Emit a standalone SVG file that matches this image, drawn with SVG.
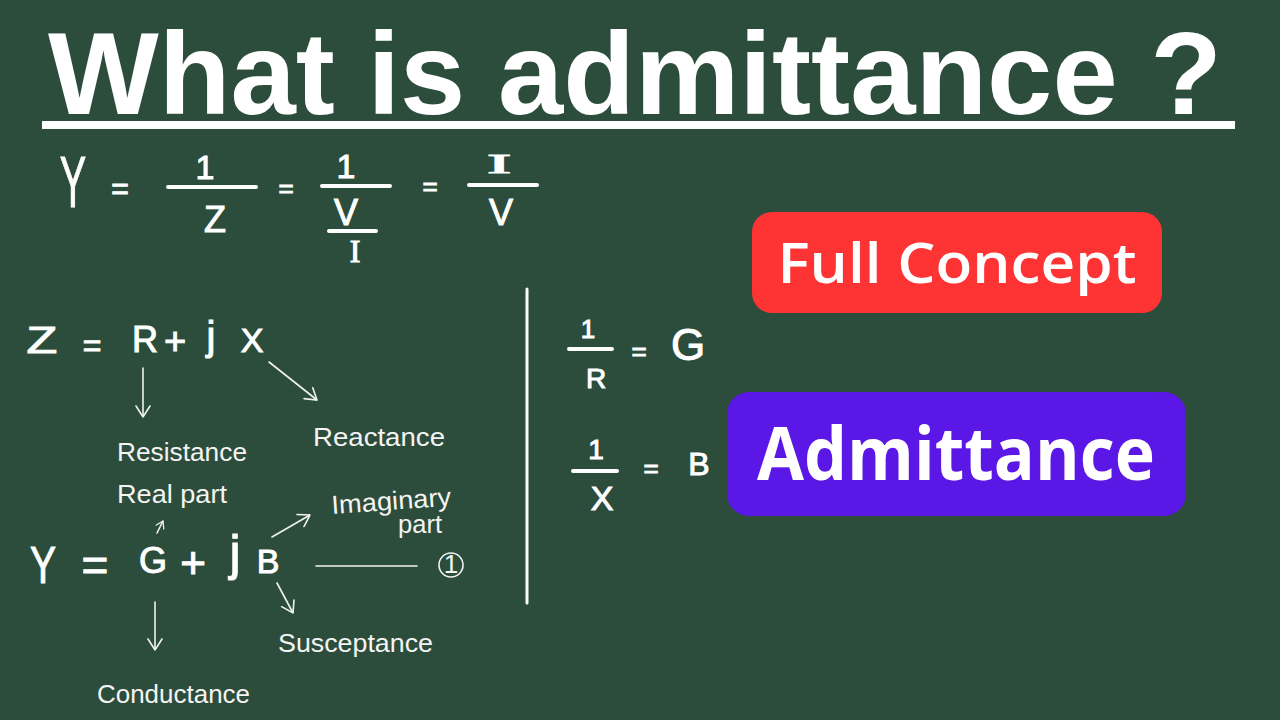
<svg xmlns="http://www.w3.org/2000/svg" width="1280" height="720" viewBox="0 0 1280 720">
<defs>
<style>
.hw{font-family:"Liberation Sans","DejaVu Sans",sans-serif;fill:#fff;text-anchor:middle}
.rm{font-family:"Liberation Serif","DejaVu Serif",serif;fill:#fff;text-anchor:middle}
.eq{stroke:#fff;stroke-width:1}
.lbl{font-family:"Liberation Sans","DejaVu Sans",sans-serif;fill:#f4f4f4;font-size:26px}
.bar{stroke:#fff;stroke-width:4;stroke-linecap:round;fill:none}
.conn{stroke:#f2f2f2;stroke-width:1.6;fill:none;stroke-linecap:round}
.title{font-family:"Liberation Sans","Open Sans",sans-serif;font-weight:700;fill:#fff}
.badge{font-family:"Open Sans","Noto Sans",sans-serif;fill:#fff;text-anchor:middle}
</style>
<marker id="ah" viewBox="0 0 12 16" refX="12" refY="8" markerWidth="12" markerHeight="16" markerUnits="userSpaceOnUse" orient="auto">
<path d="M1,1 L12,8 L1,15" fill="none" stroke="#f2f2f2" stroke-width="1.6" stroke-linecap="round"/>
</marker>
<marker id="ahs" viewBox="0 0 12 16" refX="12" refY="8" markerWidth="8" markerHeight="10" markerUnits="userSpaceOnUse" orient="auto">
<path d="M1,1 L12,8 L1,15" fill="none" stroke="#f2f2f2" stroke-width="2" stroke-linecap="round"/>
</marker>
</defs>
<rect width="1280" height="720" fill="#2c4d3b"/>

<g id="title">
<text class="title" x="48" y="114" font-size="117" textLength="1174" lengthAdjust="spacingAndGlyphs">What is admittance ?</text>
<rect x="42" y="121" width="1193" height="8" fill="#fff"/>
</g>

<g id="eq-y-definition">
<text class="hw eq" transform="translate(73,207) scale(0.55,1)" font-size="72" stroke-width="2">Y</text>
<text class="hw eq" x="120" y="199" font-size="30">=</text>
<text class="hw eq" x="205" y="179" font-size="34">1</text>
<line class="bar" x1="168" y1="187" x2="256" y2="187"/>
<text class="hw eq" x="215" y="232" font-size="36">Z</text>
<text class="hw eq" x="286" y="197" font-size="26">=</text>
<text class="hw eq" x="346" y="178" font-size="34">1</text>
<line class="bar" x1="322" y1="186" x2="390" y2="186"/>
<text class="hw eq" x="346" y="225" font-size="36">V</text>
<line class="bar" x1="329" y1="231" x2="376" y2="231"/>
<text class="rm eq" x="355" y="262" font-size="32">I</text>
<text class="hw eq" x="430" y="195" font-size="26">=</text>
<line class="bar" x1="469" y1="185" x2="537" y2="185"/>
<text class="rm eq" transform="translate(499,173) scale(2.6,0.95)" font-size="28">I</text>
<text class="hw eq" x="501" y="225" font-size="36">V</text>
</g>

<g id="eq-z">
<text class="hw eq" transform="translate(42,353) scale(1.4,1)" font-size="36">Z</text>
<text class="hw eq" x="92" y="356" font-size="32">=</text>
<text class="hw eq" x="145" y="352" font-size="36">R</text>
<text class="hw eq" x="175" y="354" font-size="38">+</text>
<text class="hw eq" x="211" y="350" font-size="40">j</text>
<text class="hw eq" x="252" y="352" font-size="34">X</text>
</g>

<g id="eq-y">
<text class="hw eq" transform="translate(43,583) scale(0.75,1)" font-size="52">Y</text>
<text class="hw eq" x="95" y="581" font-size="46">=</text>
<text class="hw eq" x="153" y="573" font-size="36">G</text>
<text class="hw eq" x="193" y="578" font-size="44">+</text>
<text class="hw eq" x="235" y="570" font-size="50">j</text>
<text class="hw eq" x="268" y="573" font-size="34">B</text>
</g>

<g id="eq-g">
<text class="hw eq" x="588" y="338" font-size="26">1</text>
<line class="bar" x1="569" y1="349" x2="612" y2="349"/>
<text class="hw eq" x="596" y="388" font-size="28">R</text>
<text class="hw eq" x="639" y="360" font-size="26">=</text>
<text class="hw eq" x="688" y="360" font-size="44">G</text>
</g>

<g id="eq-b">
<text class="hw eq" x="596" y="459" font-size="28">1</text>
<line class="bar" x1="573" y1="471" x2="617" y2="471"/>
<text class="hw eq" x="602" y="510" font-size="34">X</text>
<text class="hw eq" x="651" y="477" font-size="26">=</text>
<text class="hw eq" x="699" y="475" font-size="32">B</text>
</g>

<g id="labels">
<text class="lbl" x="117" y="461" textLength="130" lengthAdjust="spacingAndGlyphs">Resistance</text>
<text class="lbl" x="313" y="446" textLength="132" lengthAdjust="spacingAndGlyphs">Reactance</text>
<text class="lbl" x="117" y="503" font-size="22" textLength="110" lengthAdjust="spacingAndGlyphs">Real part</text>
<text class="lbl" x="332" y="514" font-size="24" textLength="120" lengthAdjust="spacingAndGlyphs" transform="rotate(-4 332 514)">Imaginary</text>
<text class="lbl" x="398" y="533" font-size="20" textLength="44" lengthAdjust="spacingAndGlyphs">part</text>
<text class="lbl" x="278" y="652" textLength="155" lengthAdjust="spacingAndGlyphs">Susceptance</text>
<text class="lbl" x="97" y="703" font-size="28" textLength="153" lengthAdjust="spacingAndGlyphs">Conductance</text>
</g>

<g id="connectors">
<line class="conn" x1="143" y1="368" x2="143" y2="417" marker-end="url(#ah)"/>
<line class="conn" x1="269" y1="362" x2="317" y2="400" marker-end="url(#ah)"/>
<line class="conn" x1="157" y1="533" x2="163" y2="521" marker-end="url(#ahs)"/>
<line class="conn" x1="272" y1="537" x2="310" y2="515" marker-end="url(#ah)"/>
<line class="conn" x1="155" y1="602" x2="155" y2="650" marker-end="url(#ah)"/>
<line class="conn" x1="277" y1="583" x2="293" y2="613" marker-end="url(#ah)"/>
<line class="conn" x1="316" y1="566" x2="417" y2="566"/>
</g>

<g id="eq-number">
<circle cx="451" cy="565" r="12" fill="none" stroke="#f2f2f2" stroke-width="1.6"/>
<text class="lbl" x="451" y="573" font-size="20" text-anchor="middle">1</text>
</g>

<g id="divider">
<line x1="527" y1="289" x2="527" y2="603" stroke="#fff" stroke-width="3" stroke-linecap="round"/>
</g>

<g id="full-concept">
<rect x="752" y="212" width="410" height="101" rx="20" fill="#fe3434"/>
<text class="badge" x="957" y="283" font-size="56" font-weight="600" textLength="359" lengthAdjust="spacingAndGlyphs">Full Concept</text>
</g>

<g id="admittance">
<rect x="727" y="392" width="459" height="124" rx="22" fill="#5a17e6"/>
<text class="badge" x="956" y="480" font-size="74" font-weight="700" textLength="398" lengthAdjust="spacingAndGlyphs">Admittance</text>
</g>
</svg>
